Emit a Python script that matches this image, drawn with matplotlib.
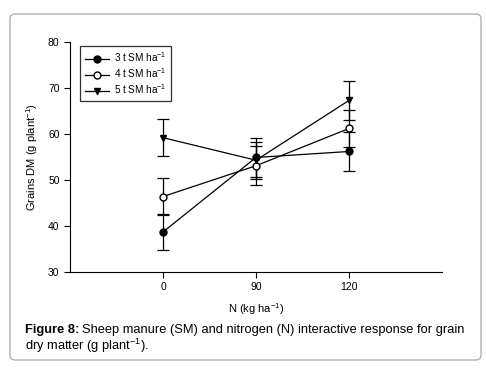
import matplotlib
matplotlib.use("Agg")
import matplotlib.pyplot as plt
from matplotlib.patches import FancyBboxPatch
from matplotlib.lines import Line2D

plt.rcParams['font.family'] = ['Liberation Sans', 'DejaVu Sans']
plt.rcParams['mathtext.fontset'] = 'custom'
plt.rcParams['mathtext.rm'] = 'Liberation Sans'
plt.rcParams['mathtext.it'] = 'Liberation Sans'

n_labels = ['0', '90', '120']
sm3 = [38.7, 54.9, 56.2]
sm3_err = [3.9, 4.2, 4.2]
sm4 = [46.4, 53.1, 61.2]
sm4_err = [4.1, 4.2, 4.0]
sm5 = [59.2, 54.3, 67.3]
sm5_err = [4.0, 4.0, 4.2]
series_labels = ['3 t SM ha$^{-1}$', '4 t SM ha$^{-1}$', '5 t SM ha$^{-1}$']

fig = plt.figure(figsize=(4.86, 3.74), dpi=100)
border = FancyBboxPatch((10/486, 14/374), 471/486, 346/374,
                        boxstyle="round,pad=0,rounding_size=0.012",
                        transform=fig.transFigure, facecolor='white',
                        edgecolor='#b0b0b0', linewidth=1.0, zorder=-5)
fig.patches.append(border)

ax = fig.add_axes([70/486, 1 - 272/374, 372/486, 230/374])
ax.patch.set_alpha(0)
x = list(range(len(n_labels)))
styles = [dict(marker='o', mfc='black'), dict(marker='o', mfc='white'), dict(marker='v', mfc='black')]
handles = []
for vals, errs, lab, st in zip([sm3, sm4, sm5], [sm3_err, sm4_err, sm5_err], series_labels, styles):
    ax.errorbar(x, vals, yerr=errs, color='black', lw=0.9, marker=st['marker'],
                mfc=st['mfc'], mec='black', ms=5, capsize=4, elinewidth=0.9,
                capthick=0.9)
    handles.append(Line2D([], [], color='black', lw=0.9, marker=st['marker'],
                          mfc=st['mfc'], mec='black', ms=5, label=lab))

ax.set_xlim(-1, 3)
ax.set_ylim(30, 80)
ax.set_xticks(x)
ax.set_xticklabels(n_labels)
ax.set_yticks(range(30, 81, 10))
ax.spines['top'].set_visible(False)
ax.spines['right'].set_visible(False)
ax.tick_params(direction='out', length=4, width=0.8, labelsize=7.5)
ax.set_xlabel('N (kg ha$^{-1}$)', fontsize=8, labelpad=6)
ax.set_ylabel('Grains DM (g plant$^{-1}$)', fontsize=8, labelpad=6)

leg = ax.legend(handles=handles, loc='upper left', bbox_to_anchor=(10/372, 1 - 4/230),
                borderaxespad=0, fontsize=7.2,
                frameon=True, fancybox=False, edgecolor='black',
                handlelength=2.4, borderpad=0.45, labelspacing=0.22, handletextpad=0.5)
leg.get_frame().set_linewidth(0.9)

cap_fs = 9.3
t1 = fig.text(25/486, 1 - 330/374, 'Figure 8:', fontsize=cap_fs, fontweight='bold',
              va='center', ha='left')
fig.canvas.draw()
r = fig.canvas.get_renderer()
bb = t1.get_window_extent(r)
x2 = (bb.x1 + 3) / fig.bbox.width
fig.text(x2, 1 - 330/374, 'Sheep manure (SM) and nitrogen (N) interactive response for grain',
         fontsize=cap_fs, va='center', ha='left')
fig.text(25/486, 1 - 346/374, 'dry matter (g plant$^{-1}$).', fontsize=cap_fs, va='center', ha='left')

fig.savefig('out.png', dpi=100)
